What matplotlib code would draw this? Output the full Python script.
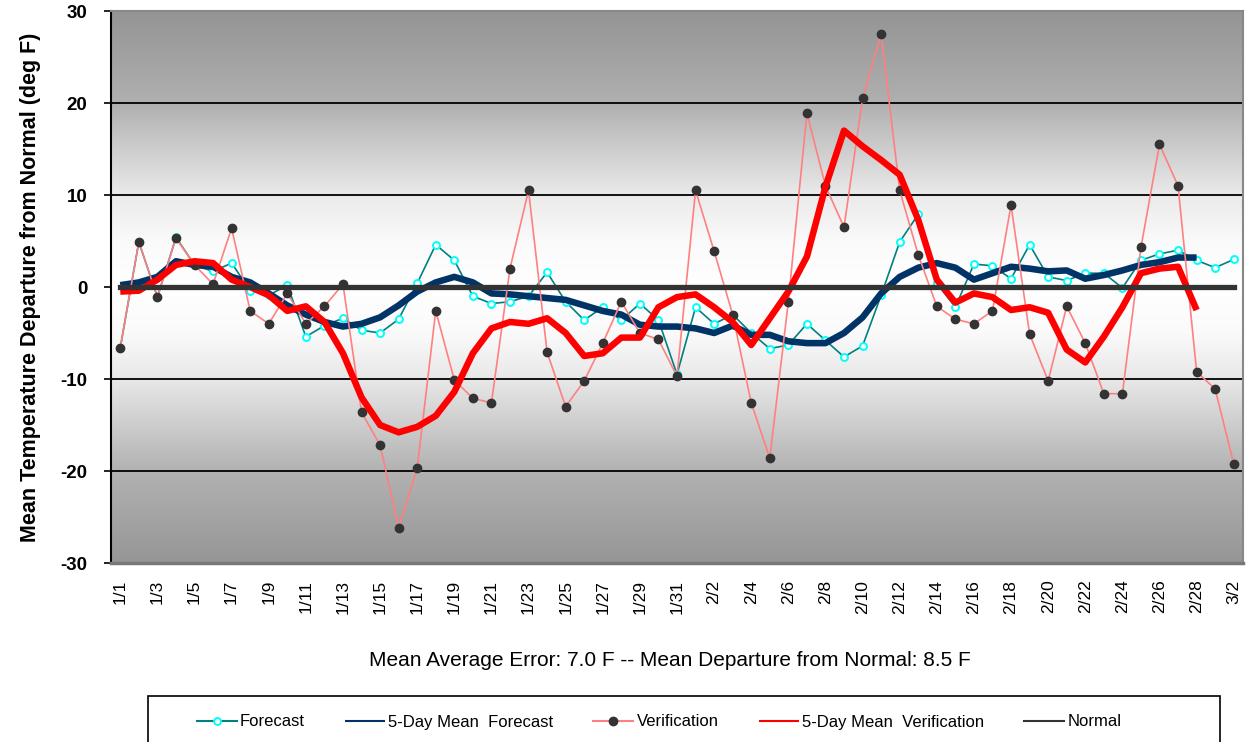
import numpy as np
import matplotlib
matplotlib.use('Agg')
import matplotlib.pyplot as plt
from matplotlib.patches import Rectangle

plt.rcParams['font.family'] = ['Liberation Sans', 'DejaVu Sans']

# dates 1/1 .. 3/2
dates = ['1/%d' % d for d in range(1, 32)] + ['2/%d' % d for d in range(1, 29)] + ['3/1', '3/2']

forecast = [-6.6, 4.9, -1.1, 5.4, 2.4, 1.7, 2.6, -0.4, -0.9, 0.2,
            -5.4, -4.2, -3.4, -4.7, -5.0, -3.5, 0.4, 4.6, 2.9, -1.0,
            -1.8, -1.6, -1.0, 1.6, -1.6, -3.6, -2.2, -3.6, -1.8, -3.6,
            -9.5, -2.2, -4.0, -3.0, -5.0, -6.7, -6.3, -4.0, -5.8, -7.6,
            -6.4, -0.9, 4.9, 7.9, 0.4, -2.2, 2.5, 2.3, 0.9, 4.6,
            1.1, 0.7, 1.5, 1.5, -0.1, 2.9, 3.6, 4.0, 2.9, 2.1, 3.0]

mean_forecast = [0.2, 0.5, 1.1, 2.8, 2.4, 2.2, 1.1, 0.5, -0.7, -2.0,
                 -3.0, -3.8, -4.3, -4.0, -3.3, -2.0, -0.5, 0.5, 1.1, 0.5,
                 -0.7, -0.8, -1.0, -1.2, -1.4, -2.0, -2.6, -3.0, -4.1, -4.3,
                 -4.3, -4.5, -5.0, -4.2, -5.2, -5.2, -5.9, -6.1, -6.1, -5.0,
                 -3.3, -0.7, 1.1, 2.1, 2.6, 2.1, 0.8, 1.5, 2.2, 2.0,
                 1.7, 1.8, 0.9, 1.3, 1.8, 2.4, 2.7, 3.2, 3.2]

verification = [-6.6, 4.9, -1.1, 5.3, 2.4, 0.3, 6.4, -2.6, -4.0, -0.7,
                -4.0, -2.1, 0.3, -13.6, -17.2, -26.2, -19.7, -2.6, -10.1, -12.1,
                -12.6, 2.0, 10.5, -7.1, -13.0, -10.2, -6.1, -1.6, -5.0, -5.7,
                -9.7, 10.5, 3.9, -3.0, -12.6, -18.6, -1.6, 18.9, 11.0, 6.5,
                20.5, 27.5, 10.5, 3.5, -2.1, -3.5, -4.0, -2.6, 8.9, -5.1,
                -10.2, -2.1, -6.1, -11.6, -11.6, 4.3, 15.5, 11.0, -9.2, -11.1, -19.2]

mean_verification = [-0.5, -0.4, 0.8, 2.4, 2.8, 2.6, 0.8, 0.0, -0.9, -2.6,
                     -2.1, -3.8, -7.2, -12.0, -15.0, -15.8, -15.2, -14.0, -11.4, -7.2,
                     -4.5, -3.8, -4.0, -3.4, -5.0, -7.5, -7.2, -5.5, -5.5, -2.2,
                     -1.1, -0.8, -2.2, -3.8, -6.3, -3.4, -0.5, 3.3, 10.9, 17.0,
                     15.3, 13.8, 12.2, 7.3, 0.8, -1.7, -0.7, -1.1, -2.5, -2.2,
                     -2.8, -6.8, -8.2, -5.4, -2.2, 1.5, 2.0, 2.2, -2.5]

normal = [0.0] * len(dates)

x = np.arange(len(dates))

fig = plt.figure(figsize=(12.49, 7.42), dpi=100)
ax = fig.add_axes([111 / 1249, 1 - 563 / 742, (1243 - 111) / 1249, (563 - 11) / 742])

# background gradient
yy = np.linspace(30, -30, 400)
stops_v = [30, 20, 10, 5, 0, -5, -10, -20, -30]
stops_g = [148, 176, 234, 250, 255, 250, 232, 178, 150]
g = np.interp(yy, stops_v[::-1], stops_g[::-1]) / 255.0
img = np.dstack([g, g, g]).reshape(len(yy), 1, 3)
ax.imshow(img, extent=[-0.5, len(dates) - 0.5, -30, 30], aspect='auto', zorder=0, interpolation='bilinear')

for gy in [-20, -10, 10, 20]:
    ax.axhline(gy, color='black', lw=1.3, zorder=1)

ax.plot(x, forecast, color='#008080', lw=1.2, marker='o', ms=5, mfc='white', mec='#00ffff', mew=1.4,
        zorder=3, label='Forecast')
ax.plot(x[:len(mean_forecast)], mean_forecast, color='#003366', lw=4.7, zorder=4,
        solid_capstyle='butt', label='5-Day Mean  Forecast')
ax.plot(x, verification, color='#ff8080', lw=1.2, marker='o', ms=6, mfc='#333333', mec='#333333',
        zorder=5, label='Verification')
ax.plot(x[:len(mean_verification)], mean_verification, color='#ff0000', lw=4.7, zorder=6,
        solid_capstyle='butt', label='5-Day Mean  Verification')
ax.plot(x, normal, color='#333333', lw=3.8, zorder=7, label='Normal')

ax.set_xlim(-0.5, len(dates) - 0.5)
ax.set_ylim(-30, 30)
ax.set_yticks([-30, -20, -10, 0, 10, 20, 30])
ax.set_yticklabels(['-30', '-20', '-10', '0', '10', '20', '30'], fontsize=13.5, fontweight='bold')
ax.set_xticks(x[::2])
ax.set_xticklabels(dates[::2], rotation=90, fontsize=12.5)
ax.tick_params(axis='x', length=0, pad=12)
ax.tick_params(axis='y', direction='out', length=5, width=1.2, pad=12)
ax.set_ylabel('Mean Temperature Departure from Normal (deg F)', fontsize=15.5, fontweight='bold', labelpad=14)

ax.spines['left'].set_color('black')
ax.spines['left'].set_linewidth(1.5)
for s in ['top', 'right']:
    ax.spines[s].set_color('#888888')
    ax.spines[s].set_linewidth(1.5)
ax.spines['bottom'].set_color('#777777')
ax.spines['bottom'].set_linewidth(2.5)

fig.text(670 / 1249, 1 - 660 / 742, 'Mean Average Error: 7.0 F -- Mean Departure from Normal: 8.5 F',
         ha='center', va='center', fontsize=15)

# legend box (runs off the bottom of the figure)
fig.patches.append(Rectangle((148 / 1249, -0.05), (1220 - 148) / 1249, 0.05 + (742 - 696) / 742,
                             transform=fig.transFigure, facecolor='white', edgecolor='black', lw=1.2))
handles, labels = ax.get_legend_handles_labels()
leg = fig.legend(handles, labels, loc='center', bbox_to_anchor=(659 / 1249, 1 - 722 / 742), ncol=5,
                 frameon=False, fontsize=12, handlelength=2.4, columnspacing=2.4, handletextpad=0.2)
for h in leg.legend_handles:
    h.set_linewidth(1.5)

fig.savefig('out.png', dpi=100)
